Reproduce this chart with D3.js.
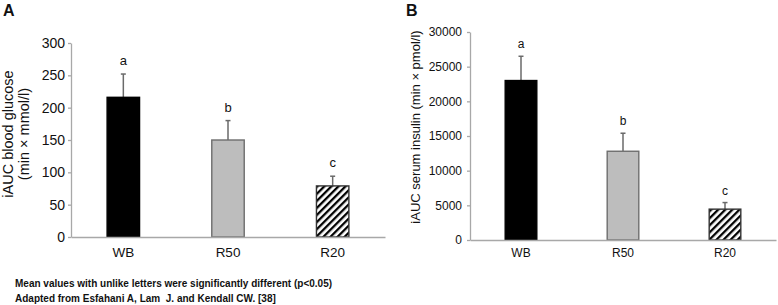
<!DOCTYPE html>
<html>
<head>
<meta charset="utf-8">
<script src="https://cdn.jsdelivr.net/npm/d3@7"></script>
<style>
  html, body { margin: 0; padding: 0; background: #fff; }
  svg { display: block; font-family: "Liberation Sans", Arial, sans-serif; }
</style>
</head>
<body>
<svg id="chart" width="778" height="305"></svg>
<script>
// ---- data ----
const categories = ["WB", "R50", "R20"];
const letters = ["a", "b", "c"];
const glucoseMean = [216, 150, 79];
const glucoseErr = [36, 30, 15];
const glucoseTicks = [0, 50, 100, 150, 200, 250, 300];
const insulinMean = [23000, 12800, 4450];
const insulinErr = [3500, 2600, 950];
const insulinTicks = [0, 5000, 10000, 15000, 20000, 25000, 30000];
const fills = ["#000000", "#bdbdbd", "url(#hatch)"];
const strokes = ["#000000", "#6e6e6e", "#333333"];
const footnotes = [
  "Mean values with unlike letters were significantly different (p<0.05)",
  "Adapted from Esfahani A, Lam  J. and Kendall CW. [38]"
];

const svg = d3.select("#chart");
const defs = svg.append("defs");
const pat = defs.append("pattern")
  .attr("id", "hatch").attr("patternUnits", "userSpaceOnUse")
  .attr("width", 5).attr("height", 5)
  .attr("patternTransform", "rotate(45)");
pat.append("rect").attr("width", 5).attr("height", 5).attr("fill", "#fff");
pat.append("rect").attr("width", 2.3).attr("height", 5).attr("fill", "#000");

function panel(cfg) {
  const g = svg.append("g");
  const x = d3.scaleBand().domain(categories).range(cfg.xr)
    .paddingInner(0.69).paddingOuter(0.345);
  const y = d3.scaleLinear().domain([0, cfg.max]).range(cfg.yr);

  // y axis
  const ya = g.append("g").attr("transform", `translate(${cfg.xr[0]},0)`)
    .call(d3.axisLeft(y).tickValues(cfg.ticks).tickFormat(d3.format("d"))
      .tickSize(3).tickSizeOuter(0).tickPadding(cfg.tickPad));
  ya.selectAll("path,line").attr("stroke", "#a8a8a8").attr("stroke-width", 1.3);
  ya.selectAll("text").attr("font-size", cfg.tickFont).attr("fill", "#111")
    .attr("font-family", "Liberation Sans, Arial, sans-serif");

  // bars
  categories.forEach((c, i) => {
    const m = cfg.mean[i], e = cfg.err[i];
    const cx = x(c) + x.bandwidth() / 2;
    g.append("line").attr("x1", cx).attr("x2", cx)
      .attr("y1", y(m)).attr("y2", y(m + e))
      .attr("stroke", "#6a6a6a").attr("stroke-width", 1.5);
    g.append("line").attr("x1", cx - 2.5).attr("x2", cx + 2.5)
      .attr("y1", y(m + e)).attr("y2", y(m + e))
      .attr("stroke", "#6a6a6a").attr("stroke-width", 1.5);
    g.append("rect").attr("x", x(c)).attr("width", x.bandwidth())
      .attr("y", y(m)).attr("height", y(0) - y(m))
      .attr("fill", fills[i]).attr("stroke", strokes[i]).attr("stroke-width", 1.4);
    g.append("text").attr("x", cx).attr("y", y(m + e) - cfg.letterGap)
      .attr("text-anchor", "middle").attr("font-size", cfg.letterFont)
      .attr("fill", "#111").text(letters[i]);
  });

  // x axis
  const xa = g.append("g").attr("transform", `translate(0,${cfg.yr[0]})`)
    .call(d3.axisBottom(x).tickSize(0).tickSizeOuter(0).tickPadding(cfg.xPad));
  xa.select("path").attr("stroke", "#a8a8a8").attr("stroke-width", 1.5);
  xa.selectAll("text").attr("font-size", cfg.xFont).attr("fill", "#111")
    .attr("font-family", "Liberation Sans, Arial, sans-serif");

  // y label
  cfg.ylabel.forEach((t, k) => {
    g.append("text")
      .attr("transform", `translate(${cfg.ylx[k]},${cfg.yly}) rotate(-90)`)
      .attr("text-anchor", "middle").attr("font-size", cfg.ylFont)
      .attr("fill", "#111").text(t);
  });
  // panel letter
  g.append("text").attr("x", cfg.pl[0]).attr("y", cfg.pl[1])
    .attr("font-size", 16).attr("font-weight", "bold").attr("fill", "#111")
    .text(cfg.name);
}

panel({
  name: "A", pl: [3, 16],
  xr: [71, 385], yr: [237, 43], max: 300, ticks: glucoseTicks,
  mean: glucoseMean, err: glucoseErr,
  tickFont: 14, tickPad: 3, xFont: 13.5, xPad: 10.5, letterFont: 13, letterGap: 9,
  ylabel: ["iAUC blood glucose", "(min × mmol/l)"], ylx: [13, 29], yly: 134, ylFont: 14.5
});

panel({
  name: "B", pl: [406, 16],
  xr: [470, 776], yr: [240, 32], max: 30000, ticks: insulinTicks,
  mean: insulinMean, err: insulinErr,
  tickFont: 12, tickPad: 5, xFont: 12, xPad: 8.5, letterFont: 12, letterGap: 8,
  ylabel: ["iAUC serum insulin (min × pmol/l)"], ylx: [420], yly: 127, ylFont: 13
});

// footnotes
footnotes.forEach((t, i) => {
  svg.append("text").attr("x", 15).attr("y", 287 + i * 15)
    .attr("font-size", 10).attr("font-weight", "bold").attr("fill", "#111")
    .style("white-space", "pre").text(t);
});
</script>
</body>
</html>
